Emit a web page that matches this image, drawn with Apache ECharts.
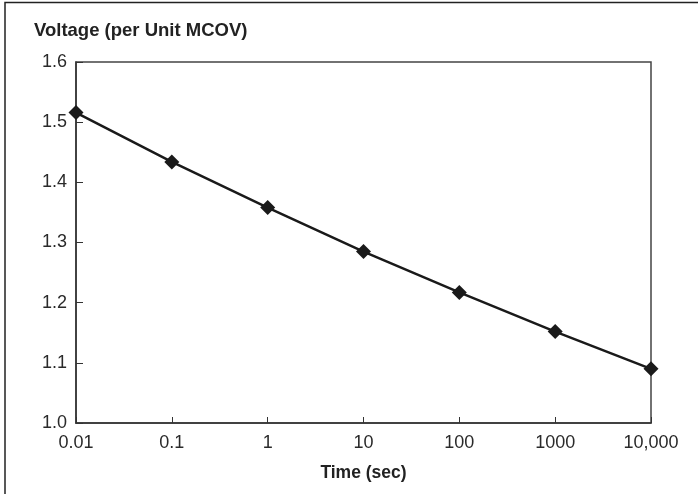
<!DOCTYPE html>
<html>
<head>
<meta charset="utf-8">
<script src="https://cdn.jsdelivr.net/npm/echarts@6/dist/echarts.min.js"></script>
<style>
  html, body { margin: 0; padding: 0; background: #fff; }
  #chart { width: 698px; height: 494px; }
</style>
</head>
<body>
<div id="chart"></div>
<script>
// time in seconds (log scale)
const times = [0.01, 0.1, 1, 10, 100, 1000, 10000];
// voltage, per unit MCOV
const voltage = [1.516, 1.434, 1.358, 1.285, 1.217, 1.152, 1.090];
const xTickLabels = ['0.01', '0.1', '1', '10', '100', '1000', '10,000'];

const chart = echarts.init(document.getElementById('chart'));

const font = '"Liberation Sans", Arial, sans-serif';

const option = {
  animation: false,
  title: {
    text: 'Voltage (per Unit MCOV)',
    left: 34,
    top: 21,
    padding: 0,
    textStyle: { fontFamily: font, fontSize: 18.5, fontWeight: 'bold', color: '#222' }
  },
  graphic: [{
    type: 'polyline',
    shape: { points: [[5, 494], [5, 2.5], [698, 2.5]] },
    style: { stroke: '#222', lineWidth: 1.5, fill: null }
  }],
  grid: {
    left: 76, right: 47, top: 62, bottom: 71,
    show: true, borderColor: '#444', borderWidth: 1.5
  },
  xAxis: {
    type: 'log',
    logBase: 10,
    min: 0.01,
    max: 10000,
    name: 'Time (sec)',
    nameLocation: 'middle',
    nameGap: 41,
    nameTextStyle: { fontFamily: font, fontSize: 17.5, fontWeight: 'bold', color: '#222' },
    axisLine: { lineStyle: { color: '#333', width: 1.5 } },
    axisTick: { inside: true, length: 6, lineStyle: { color: '#333' } },
    minorTick: { show: false },
    splitLine: { show: false },
    axisLabel: {
      fontFamily: font, fontSize: 18, color: '#2a2a2a', margin: 11,
      formatter: v => xTickLabels[Math.round(Math.log10(v)) + 2] || ''
    }
  },
  yAxis: {
    type: 'value',
    min: 1.0,
    max: 1.6,
    interval: 0.1,
    axisLine: { show: true, lineStyle: { color: '#333', width: 1.5 } },
    axisTick: { show: true, inside: true, length: 7, lineStyle: { color: '#333' } },
    splitLine: { show: false },
    axisLabel: {
      fontFamily: font, fontSize: 18, color: '#2a2a2a', margin: 9,
      formatter: v => v.toFixed(1)
    }
  },
  series: [{
    type: 'line',
    data: times.map((t, i) => [t, voltage[i]]),
    symbol: 'diamond',
    symbolSize: 15,
    itemStyle: { color: '#1a1a1a' },
    lineStyle: { color: '#1a1a1a', width: 2.5 }
  }]
};

chart.setOption(option);
</script>
</body>
</html>
